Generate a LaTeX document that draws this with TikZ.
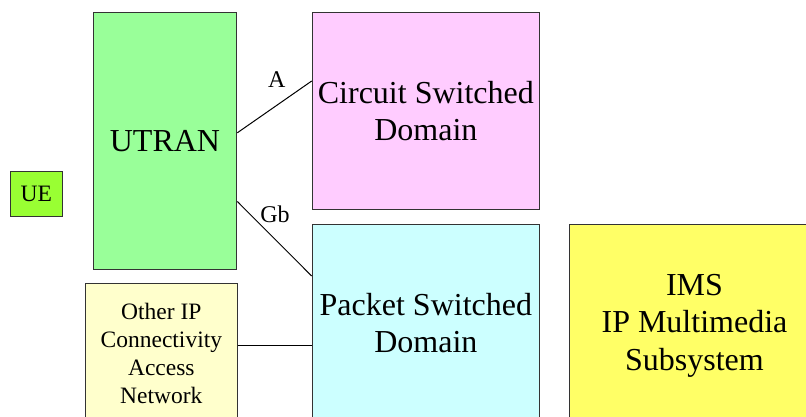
\documentclass[tikz,border=0pt]{standalone}
\usepackage{fontspec}
\setmainfont{Liberation Serif}
\definecolor{ueGreen}{HTML}{99FF33}
\definecolor{utranGreen}{HTML}{99FF99}
\definecolor{csPink}{HTML}{FFCCFF}
\definecolor{psCyan}{HTML}{CCFFFF}
\definecolor{ipYellow}{HTML}{FFFFCC}
\definecolor{imsYellow}{HTML}{FFFF66}
\definecolor{edge}{HTML}{333333}
\tikzset{
  box/.style={draw=edge, line width=1pt, rectangle, anchor=north west,
              inner sep=0pt, align=center},
  bigtext/.style={font=\fontsize{32}{37.5}\selectfont},
  smalltext/.style={font=\fontsize{23.5}{28}\selectfont},
  lbl/.style={font=\fontsize{24}{28}\selectfont, inner sep=0pt},
  link/.style={draw=black, line width=1pt}
}
\begin{document}
\begin{tikzpicture}[x=1pt, y=-1pt]
  \useasboundingbox (0,0) rectangle (806,416);
  \clip (0,0) rectangle (806,416);
  \fill[white] (0,0) rectangle (806,416);

  % network elements
  \node[box, smalltext, fill=ueGreen, minimum width=52.6pt, minimum height=45.3pt]
    (ue) at (9.5,170.7) {UE};
  \node[box, bigtext, fill=utranGreen, minimum width=143.6pt, minimum height=256.4pt]
    (utran) at (92.7,12.3) {UTRAN};
  \node[box, bigtext, fill=csPink, minimum width=227.3pt, minimum height=196.4pt]
    (cs) at (311.7,12.3) {Circuit Switched\\Domain};
  \node[box, bigtext, fill=psCyan, minimum width=227.3pt, minimum height=198pt]
    (ps) at (311.7,223.7) {Packet Switched\\Domain};
  \node[box, smalltext, fill=ipYellow, minimum width=151.7pt, minimum height=140pt]
    (other) at (85,283.3) {Other IP\\Connectivity\\Access\\Network};
  \node[box, bigtext, fill=imsYellow, minimum width=250pt, minimum height=203pt]
    (ims) at (569,223.7) {IMS\\IP Multimedia\\Subsystem};

  % interfaces
  \coordinate (ipport) at ([yshift=8.3pt]other.east);
  \draw[link] ([yshift=8.2pt]utran.east) -- ([yshift=30pt]cs.west);
  \draw[link] ([yshift=-60.5pt]utran.east) -- ([yshift=-52.3pt]ps.north west);
  \draw[link] (ipport) -- (ps.west |- ipport);

  \node[lbl] (lblA) at (276.7,79.5) {A};
  \node[lbl] (lblGb) at (275,214) {Gb};
\end{tikzpicture}
\end{document}
